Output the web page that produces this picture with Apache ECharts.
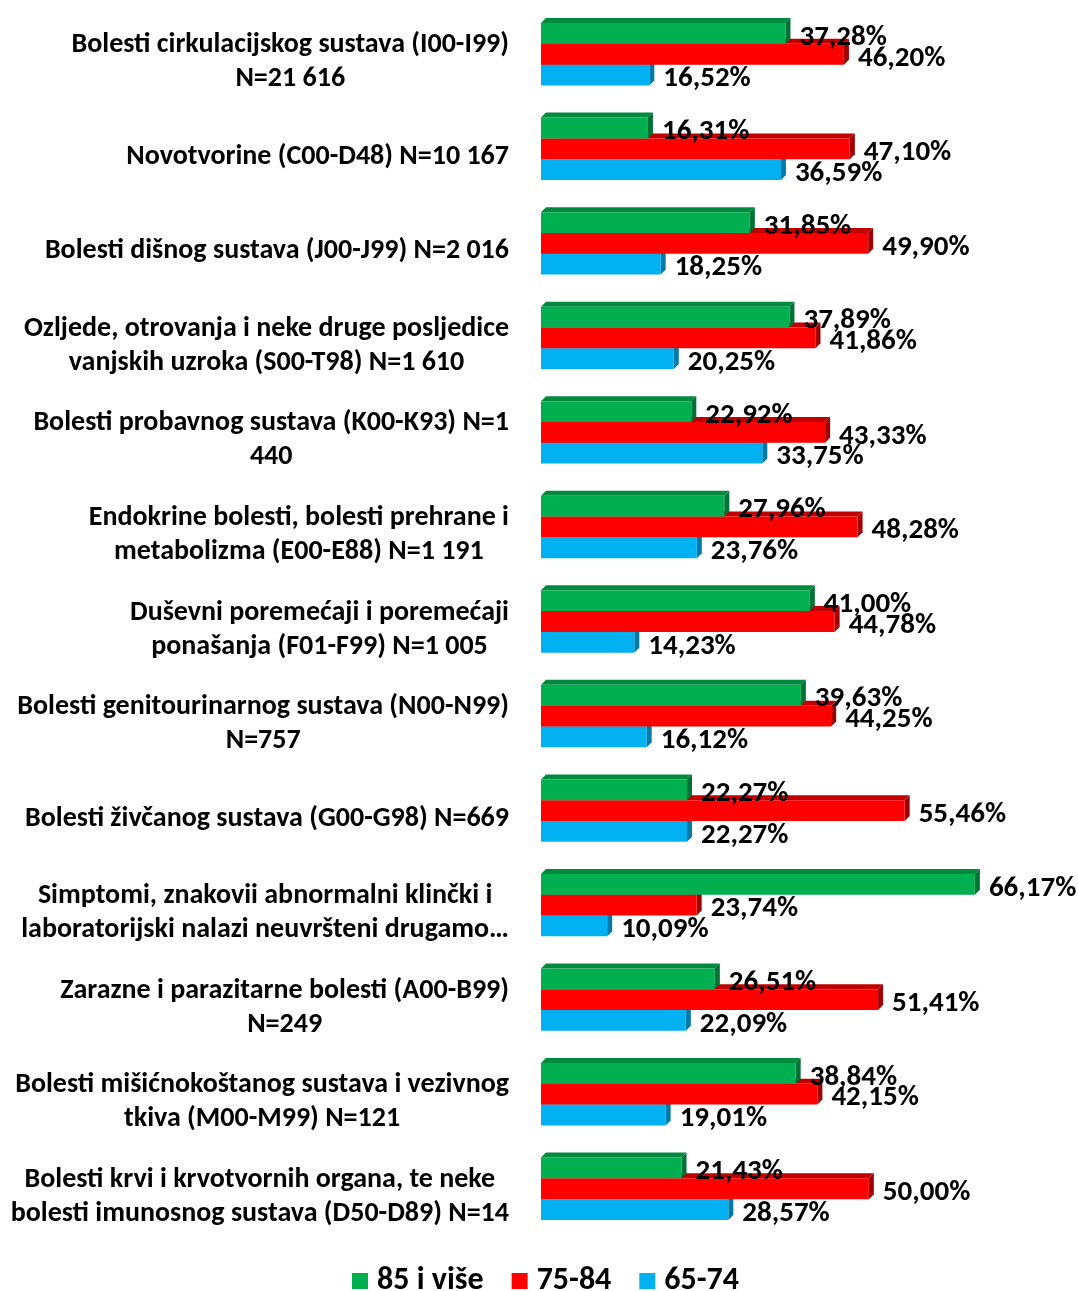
<!DOCTYPE html>
<html>
<head>
<meta charset="utf-8">
<script src="https://cdn.jsdelivr.net/npm/echarts@6/dist/echarts.min.js"></script>
<style>
html,body{margin:0;padding:0;background:#fff;}
#chart{width:1078px;height:1291px;}
</style>
</head>
<body>
<div id="chart"></div>
<script>
const categories = [
  "Bolesti cirkulacijskog sustava (I00-I99)\nN=21 616",
  "Novotvorine (C00-D48) N=10 167",
  "Bolesti dišnog sustava (J00-J99) N=2 016",
  "Ozljede, otrovanja i neke druge posljedice\nvanjskih uzroka (S00-T98) N=1 610",
  "Bolesti probavnog sustava (K00-K93) N=1\n440",
  "Endokrine bolesti, bolesti prehrane i\nmetabolizma (E00-E88) N=1 191",
  "Duševni poremećaji i poremećaji\nponašanja (F01-F99) N=1 005",
  "Bolesti genitourinarnog sustava (N00-N99)\nN=757",
  "Bolesti živčanog sustava (G00-G98) N=669",
  "Simptomi, znakovii abnormalni klinčki i\nlaboratorijski nalazi neuvršteni drugamo…",
  "Zarazne i parazitarne bolesti (A00-B99)\nN=249",
  "Bolesti mišićnokoštanog sustava i vezivnog\ntkiva (M00-M99) N=121",
  "Bolesti krvi i krvotvornih organa, te neke\nbolesti imunosnog sustava (D50-D89) N=14"
];
const seriesNames = ["85 i više", "75-84", "65-74"];
const age85 = [37.28, 16.31, 31.85, 37.89, 22.92, 27.96, 41.00, 39.63, 22.27, 66.17, 26.51, 38.84, 21.43];
const age75 = [46.20, 47.10, 49.90, 41.86, 43.33, 48.28, 44.78, 44.25, 55.46, 23.74, 51.41, 42.15, 50.00];
const age65 = [16.52, 36.59, 18.25, 20.25, 33.75, 23.76, 14.23, 16.12, 22.27, 10.09, 22.09, 19.01, 28.57];

const FONT = "Carlito, Calibri, Lato, sans-serif";
const BAR_FRAC = 0.22;
const D = 5, DY = 5, GAP = 14, LBL_DY = 4;

function fmt(v) { return v.toFixed(2).replace('.', ',') + '%'; }

function makeRender(front, top, side, slot) {
  return function (params, api) {
    const idx = api.value(1);
    const val = api.value(0);
    const p0 = api.coord([0, idx]);
    const p1 = api.coord([val, idx]);
    const band = api.size([0, 1])[1];
    const h = band * BAR_FRAC;
    const y = p0[1] - 1.5 * h + slot * h;
    const x0 = p0[0], x1 = p1[0];
    return {
      type: 'group',
      children: [
        { type: 'polygon', shape: { points: [[x0, y], [x0 + D, y - DY], [x1 + D, y - DY], [x1, y]] }, style: { fill: top } },
        { type: 'polygon', shape: { points: [[x1, y], [x1 + D, y - DY], [x1 + D, y + h - DY], [x1, y + h]] }, style: { fill: side } },
        { type: 'rect', shape: { x: x0, y: y, width: x1 - x0, height: h }, style: { fill: front } },
        { type: 'text', x: x1 + GAP, y: y + h / 2 + LBL_DY, z2: 10,
          style: { text: fmt(val), fill: '#000', font: 'bold 29px ' + FONT, align: 'left', verticalAlign: 'middle' } }
      ]
    };
  };
}

const defs = [
  { name: seriesNames[2], data: age65, front: '#00B0F0', top: '#0088BB', side: '#007AA8', slot: 2 },
  { name: seriesNames[1], data: age75, front: '#FF0000', top: '#C00000', side: '#A00000', slot: 1 },
  { name: seriesNames[0], data: age85, front: '#00B050', top: '#008A3E', side: '#007235', slot: 0 }
];

const chart = echarts.init(document.getElementById('chart'), null, { renderer: 'canvas' });
chart.setOption({
  animation: false,
  backgroundColor: '#fff',
  grid: { left: 541, top: 7, width: 459, height: 1229, containLabel: false },
  xAxis: { type: 'value', min: 0, max: 70, show: false },
  yAxis: {
    type: 'category', inverse: true, data: categories,
    axisLine: { show: false }, axisTick: { show: false }, splitLine: { show: false },
    axisLabel: {
      margin: 32, align: 'right', verticalAlign: 'middle', padding: [16, 0, 0, 0],
      formatter: function (v) { return v.split('\n').map(s => '{c|' + s + '}').join('\n'); },
      rich: { c: { align: 'center', fontFamily: FONT, fontWeight: 'bold', fontSize: 28, lineHeight: 34, color: '#000' } }
    }
  },
  legend: {
    data: seriesNames, left: 347, top: 1260, icon: 'rect', itemWidth: 16, itemHeight: 16, itemGap: 28,
    textStyle: { fontFamily: FONT, fontWeight: 'bold', fontSize: 32, color: '#000', padding: [0, 0, 0, 4] }
  },
  series: defs.map(d => ({
    type: 'custom', name: d.name, clip: false,
    itemStyle: { color: d.front },
    encode: { x: 0, y: 1 },
    data: d.data.map((v, i) => [v, i]),
    renderItem: makeRender(d.front, d.top, d.side, d.slot)
  }))
});
</script>
</body>
</html>
